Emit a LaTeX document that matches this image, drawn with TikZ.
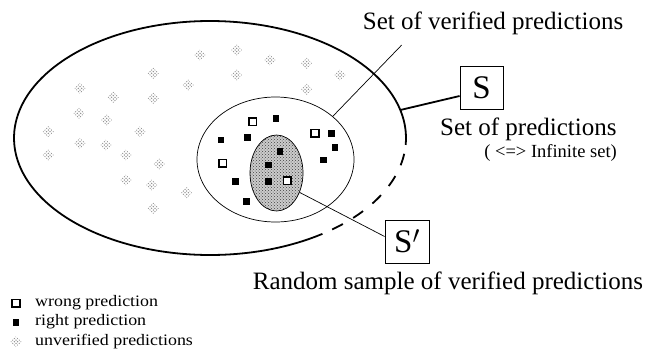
\documentclass[tikz,border=0pt]{standalone}
\usepackage{fontspec}
\setmainfont{Liberation Serif}
\newfontfamily\legfont[FakeStretch=1.12]{Liberation Serif}
\usetikzlibrary{shapes.geometric,patterns}
\begin{document}
\begin{tikzpicture}[x=1pt,y=-1pt,
 wsq/.style={draw=black, line width=1.7pt, fill=white, minimum size=7.5pt, inner sep=0pt},
 rsq/.style={fill=black, minimum size=6.5pt, inner sep=0pt},
 udia/.style={diamond, minimum size=11pt, inner sep=0pt,
   path picture={\foreach \i in {0,...,3}{\foreach \j in {0,...,3}{
       \fill[gray!90] ([shift={({(\i-\j)*1.7},{(\i+\j-3)*1.7})}]path picture bounding box.center) circle (0.75pt);}}}},
 lbl/.style={font=\fontsize{25}{28}\selectfont, inner sep=0pt},
 boxlbl/.style={draw, line width=0.8pt, font=\fontsize{33}{36}\selectfont, inner sep=0pt},
 leg/.style={font=\legfont\fontsize{16}{18}\selectfont, inner sep=0pt, anchor=base west},
 thinl/.style={line width=0.7pt},
 thickl/.style={line width=1.8pt},
]
\fill[white] (0,0) rectangle (660,351);
\useasboundingbox (0,0) rectangle (660,351);

% big ellipse: set of predictions
\draw[thickl] plot[domain=55:363.4, samples=150, smooth] ({210+196*cos(\x)},{138+117*sin(\x)});
\draw[thickl, dash pattern=on 12pt off 12pt, dash phase=15pt] plot[domain=3.4:55, samples=60, smooth] ({210+196*cos(\x)},{138+117*sin(\x)});
\coordinate (bigS) at (400.3,110);

% verified set
\node[draw, ellipse, thinl, minimum width=157pt, minimum height=125pt, inner sep=0pt] (ver) at (275.5,159.5) {};
% random sample
\node[draw, ellipse, thinl, minimum width=53pt, minimum height=76pt, inner sep=0pt,
      preaction={fill=gray!40}, pattern=crosshatch dots, pattern color=black!75] (samp) at (276.5,173) {};

% unverified predictions
\foreach \p [count=\i] in {(200,55),(236.7,50),(270,60),(306.7,63.3),(236.7,75),(153.3,73.3),(188.3,85),(306.7,89.3),(80,88.3),(113.3,97.3),(153.3,98.3),(79,113.3),(106.7,120),(140,131.7),(48.3,131.7),(80,143.3),(106,145),(126,155),(48.3,155),(159.3,164),(126,180),(151.7,185),(186.7,192.7),(153.3,208.3),(340,75)}
  \node[udia] (u\i) at \p {};

% wrong predictions
\foreach \p [count=\i] in {(252.7,121.7),(315,133.3),(222.7,163.3),(287.3,180.7)}
  \node[wsq] (w\i) at \p {};
% right predictions
\foreach \p [count=\i] in {(276,118.3),(221,140),(247.7,137.7),(331.7,133.3),(335,147.3),(323.3,160),(280,151.7),(268.3,165),(268.3,181.7),(235.3,181.7),(246.7,201.7)}
  \node[rsq] (r\i) at \p {};

% labels and boxes
\node[lbl, anchor=base west] (verlab) at (362.7,29.3) {Set of verified predictions};
\node[lbl, anchor=base west] (predlab) at (440,135) {Set of predictions};
\node[font=\fontsize{18.5}{20}\selectfont, inner sep=0pt, anchor=base east] (inflab) at (617,157) {( <=> Infinite set)};
\node[lbl, anchor=base west] (randlab) at (252.7,289.3) {Random sample of verified predictions};

\node[boxlbl, minimum width=43pt, minimum height=43pt] (S) at (481.5,87.5) {S};
\node[boxlbl, minimum width=44pt, minimum height=43pt] (Sp) at (407,241.5) {S$'$};

% connectors
\draw[thickl] ([yshift=-8.5pt]S.west) -- (bigS);
\coordinate (v1) at (401.7,45);
\draw[thinl] (v1) -- (ver.37);
\draw[thinl] ([yshift=5pt]Sp.west) -- (samp.-40);

% legend
\node[wsq] (lw) at (16,303.3) {};
\node[rsq] (lr) at (16,322.3) {};
\node[udia] (lu) at (16,341.7) {};
\node[leg] (tw) at (35,306.7) {wrong prediction};
\node[leg] (tr) at (35,325.7) {right prediction};
\node[leg] (tu) at (35,345) {unverified predictions};
\end{tikzpicture}
\end{document}
